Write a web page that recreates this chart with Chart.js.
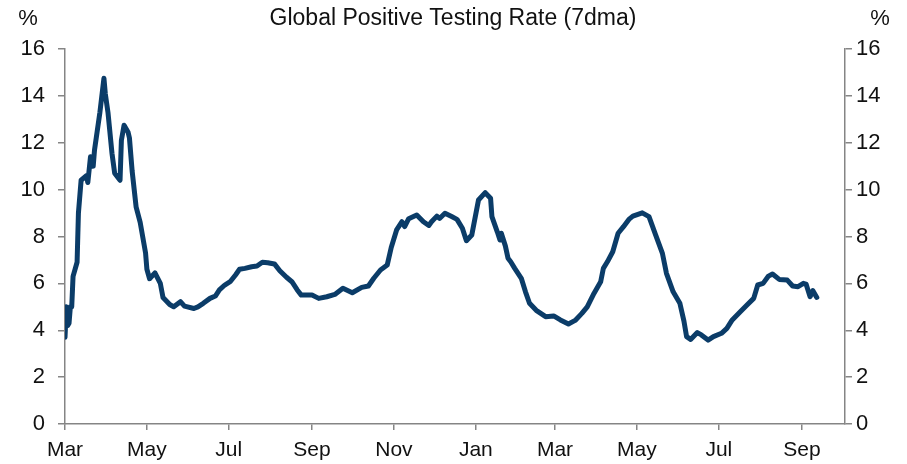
<!DOCTYPE html>
<html>
<head>
<meta charset="utf-8">
<title>Global Positive Testing Rate (7dma)</title>
<script src="https://cdn.jsdelivr.net/npm/chart.js@4.4.1/dist/chart.umd.min.js"></script>
<style>
  html, body { margin: 0; padding: 0; background: #fff; }
  #wrap { width: 907px; height: 464px; }
</style>
</head>
<body>
<div id="wrap"><canvas id="chart" width="907" height="464"></canvas></div>
<script>
// days since 1 Mar 2020
const days = [0, 1, 2, 3, 4, 5, 6, 9, 10, 12, 16, 17, 19, 21, 22, 26, 29, 30, 32, 35,
  37, 41, 42, 44, 47, 48, 50, 53, 56, 60, 61, 63, 67, 71, 73, 78, 81, 86, 89, 96,
  99, 103, 108, 112, 115, 119, 123, 127, 130, 134, 139, 143, 147, 151, 156, 160, 165, 169, 173, 176,
  184, 189, 195, 201, 207, 214, 221, 226, 230, 235, 240, 243, 247, 251, 253, 256, 262, 267, 271, 273,
  277, 279, 283, 288, 292, 296, 299, 303, 308, 313, 317, 318, 322, 324, 325, 328, 330, 332, 335, 340,
  343, 346, 351, 358, 364, 369, 375, 380, 385, 389, 394, 399, 401, 404, 408, 412, 416, 420, 423, 430,
  435, 440, 445, 448, 453, 458, 461, 463, 466, 471, 474, 479, 483, 489, 493, 497, 503, 508, 513, 516,
  520, 524, 527, 532, 538, 542, 546, 550, 552, 555, 557, 560];

// positive testing rate, %
const rate = [3.7, 5.0, 4.2, 4.3, 5.0, 5.0, 6.3, 6.9, 9.0, 10.4, 10.6, 10.3, 11.4, 11.0, 11.7, 13.3, 14.75, 14.1, 13.3, 11.55,
  10.7, 10.4, 12.1, 12.75, 12.45, 12.2, 10.8, 9.25, 8.6, 7.3, 6.6, 6.2, 6.45, 6.0, 5.4, 5.1, 5.0, 5.22, 5.03, 4.93,
  5.0, 5.15, 5.36, 5.46, 5.72, 5.93, 6.07, 6.36, 6.6, 6.64, 6.71, 6.74, 6.9, 6.88, 6.83, 6.54, 6.26, 6.07, 5.72, 5.5,
  5.5, 5.36, 5.43, 5.53, 5.79, 5.6, 5.83, 5.89, 6.22, 6.57, 6.78, 7.53, 8.28, 8.63, 8.42, 8.76, 8.92, 8.63, 8.47, 8.63,
  8.87, 8.77, 8.99, 8.85, 8.73, 8.35, 7.82, 8.06, 9.56, 9.87, 9.63, 8.85, 8.2, 7.85, 8.14, 7.6, 7.07, 6.92, 6.64, 6.2,
  5.64, 5.15, 4.85, 4.58, 4.61, 4.44, 4.27, 4.42, 4.72, 5.0, 5.57, 6.07, 6.64, 6.92, 7.35, 8.14, 8.42, 8.73, 8.87, 9.01,
  8.85, 8.06, 7.28, 6.43, 5.64, 5.15, 4.4, 3.73, 3.61, 3.9, 3.8, 3.58, 3.73, 3.87, 4.08, 4.44, 4.79, 5.08, 5.36, 5.93,
  6.0, 6.31, 6.4, 6.17, 6.14, 5.89, 5.86, 6.0, 5.97, 5.43, 5.69, 5.4];

const tickDates = ['2020-03-01', '2020-05-01', '2020-07-01', '2020-09-01', '2020-11-01',
  '2021-01-01', '2021-03-01', '2021-05-01', '2021-07-01', '2021-09-01'];
const tickLabels = ['Mar', 'May', 'Jul', 'Sep', 'Nov', 'Jan', 'Mar', 'May', 'Jul', 'Sep'];
const yTicks = [0, 2, 4, 6, 8, 10, 12, 14, 16];

const START = Date.UTC(2020, 2, 1);
const DAY = 86400000;
const tickDays = tickDates.map(d => Math.round((Date.parse(d) - START) / DAY));

const FONT = "'Liberation Sans', Arial, sans-serif";
const AXIS = '#858585';
const LINE = '#0b3c68';

// title and unit labels
const labelsPlugin = {
  id: 'labels',
  afterDraw(chart) {
    const ctx = chart.ctx;
    ctx.save();
    ctx.fillStyle = '#111';
    ctx.textBaseline = 'alphabetic';
    ctx.textAlign = 'center';
    ctx.font = '23px ' + FONT;
    ctx.fillText('Global Positive Testing Rate (7dma)', 453, 25);
    ctx.font = '22px ' + FONT;
    ctx.fillText('%', 28, 25);
    ctx.fillText('%', 880, 25);
    ctx.restore();
  }
};

const yAxis = (pos, width, pad) => ({
  type: 'linear',
  position: pos,
  min: 0,
  max: 16,
  afterBuildTicks: s => { s.ticks = yTicks.map(v => ({ value: v })); },
  afterFit: s => { s.width = width; },
  grid: { drawOnChartArea: false, drawTicks: true, tickLength: 7, color: AXIS, lineWidth: 1.5 },
  border: { display: true, color: AXIS, width: 1.5 },
  ticks: { color: '#111', padding: pad, font: { family: FONT, size: 22 } }
});

new Chart(document.getElementById('chart'), {
  type: 'line',
  data: {
    datasets: [{
      label: 'Global Positive Testing Rate',
      data: days.map((d, i) => ({ x: d, y: rate[i] })),
      borderColor: LINE,
      borderWidth: 5,
      pointRadius: 0,
      tension: 0,
      borderJoinStyle: 'round',
      borderCapStyle: 'round',
      fill: false
    }]
  },
  options: {
    responsive: false,
    animation: false,
    layout: { padding: { top: 49, left: 0, right: 0, bottom: 0 } },
    plugins: { legend: { display: false }, title: { display: false }, tooltip: { enabled: false } },
    scales: {
      x: {
        type: 'linear',
        min: 0,
        max: 581,
        afterBuildTicks: s => { s.ticks = tickDays.map(v => ({ value: v })); },
        afterFit: s => { s.height = 40; },
        grid: { drawOnChartArea: false, drawTicks: true, tickLength: 6, color: AXIS, lineWidth: 1.5 },
        border: { display: true, color: AXIS, width: 1.5 },
        ticks: {
          color: '#111',
          padding: 8,
          autoSkip: false,
          maxRotation: 0,
          font: { family: FONT, size: 21 },
          callback: (v, i) => tickLabels[i]
        }
      },
      y: yAxis('left', 65, 13),
      y2: yAxis('right', 62, 4)
    }
  },
  plugins: [labelsPlugin]
});
</script>
</body>
</html>
